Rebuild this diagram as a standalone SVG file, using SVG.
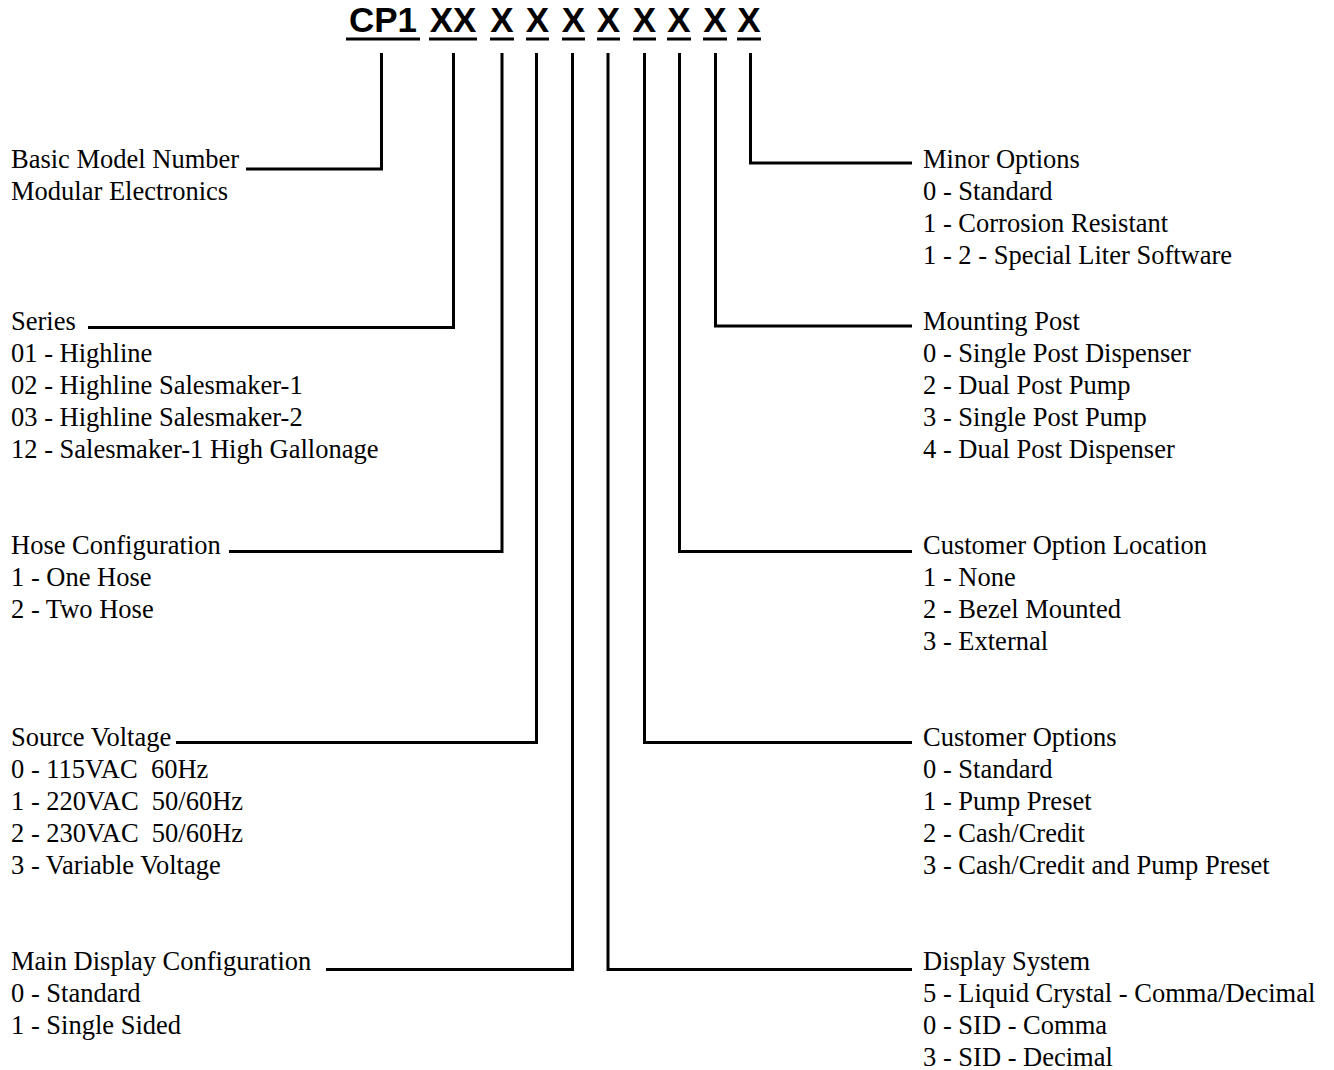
<svg xmlns="http://www.w3.org/2000/svg" width="1334" height="1070" viewBox="0 0 1334 1070">
<style>
.t{font-family:"Liberation Serif","Times New Roman",serif;font-size:26.5px;fill:#000}
.h{font-family:"Liberation Sans",Arial,sans-serif;font-size:35px;font-weight:bold;fill:#000;text-anchor:middle}
.c{fill:none;stroke:#000;stroke-width:3}
.u{fill:#000}
</style>
<rect width="1334" height="1070" fill="#fff"/>
<g id="header">
<text class="h" x="383" y="32">CP1</text>
<text class="h" x="453" y="32">XX</text>
<text class="h" x="502" y="32">X</text>
<text class="h" x="537.5" y="32">X</text>
<text class="h" x="573.5" y="32">X</text>
<text class="h" x="608.5" y="32">X</text>
<text class="h" x="644.5" y="32">X</text>
<text class="h" x="679" y="32">X</text>
<text class="h" x="715" y="32">X</text>
<text class="h" x="749" y="32">X</text>
<rect class="u" x="346" y="37.5" width="74" height="3"/>
<rect class="u" x="429" y="37.5" width="48" height="3"/>
<rect class="u" x="490" y="37.5" width="24" height="3"/>
<rect class="u" x="526" y="37.5" width="23" height="3"/>
<rect class="u" x="562" y="37.5" width="23" height="3"/>
<rect class="u" x="597" y="37.5" width="23" height="3"/>
<rect class="u" x="633" y="37.5" width="23" height="3"/>
<rect class="u" x="667" y="37.5" width="24" height="3"/>
<rect class="u" x="703" y="37.5" width="24" height="3"/>
<rect class="u" x="737" y="37.5" width="24" height="3"/>
</g>
<g id="connectors">
<polyline class="c" points="381.5,53 381.5,169 246,169"/>
<polyline class="c" points="453.5,53 453.5,327.5 88,327.5"/>
<polyline class="c" points="502,53 502,551.5 229,551.5"/>
<polyline class="c" points="536.5,53 536.5,742.5 176,742.5"/>
<polyline class="c" points="572.5,53 572.5,969.5 326,969.5"/>
<polyline class="c" points="608,53 608,969.5 912,969.5"/>
<polyline class="c" points="644.5,53 644.5,742.5 912,742.5"/>
<polyline class="c" points="679.5,53 679.5,551.5 912,551.5"/>
<polyline class="c" points="715.5,53 715.5,326 912,326"/>
<polyline class="c" points="750.5,53 750.5,163 912,163"/>
</g>
<g id="basic-model">
<text class="t" x="11" y="168">Basic Model Number</text>
<text class="t" x="11" y="200">Modular Electronics</text>
</g>
<g id="series">
<text class="t" x="11" y="330">Series</text>
<text class="t" x="11" y="362">01 - Highline</text>
<text class="t" x="11" y="394">02 - Highline Salesmaker-1</text>
<text class="t" x="11" y="426">03 - Highline Salesmaker-2</text>
<text class="t" x="11" y="458">12 - Salesmaker-1 High Gallonage</text>
</g>
<g id="hose-configuration">
<text class="t" x="11" y="554">Hose Configuration</text>
<text class="t" x="11" y="586">1 - One Hose</text>
<text class="t" x="11" y="618">2 - Two Hose</text>
</g>
<g id="source-voltage">
<text class="t" x="11" y="746">Source Voltage</text>
<text class="t" x="11" y="778" xml:space="preserve">0 - 115VAC  60Hz</text>
<text class="t" x="11" y="810" xml:space="preserve">1 - 220VAC  50/60Hz</text>
<text class="t" x="11" y="842" xml:space="preserve">2 - 230VAC  50/60Hz</text>
<text class="t" x="11" y="874">3 - Variable Voltage</text>
</g>
<g id="main-display-configuration">
<text class="t" x="11" y="970">Main Display Configuration</text>
<text class="t" x="11" y="1002">0 - Standard</text>
<text class="t" x="11" y="1034">1 - Single Sided</text>
</g>
<g id="minor-options">
<text class="t" x="923" y="168">Minor Options</text>
<text class="t" x="923" y="200">0 - Standard</text>
<text class="t" x="923" y="232">1 - Corrosion Resistant</text>
<text class="t" x="923" y="264">1 - 2 - Special Liter Software</text>
</g>
<g id="mounting-post">
<text class="t" x="923" y="330">Mounting Post</text>
<text class="t" x="923" y="362">0 - Single Post Dispenser</text>
<text class="t" x="923" y="394">2 - Dual Post Pump</text>
<text class="t" x="923" y="426">3 - Single Post Pump</text>
<text class="t" x="923" y="458">4 - Dual Post Dispenser</text>
</g>
<g id="customer-option-location">
<text class="t" x="923" y="554">Customer Option Location</text>
<text class="t" x="923" y="586">1 - None</text>
<text class="t" x="923" y="618">2 - Bezel Mounted</text>
<text class="t" x="923" y="650">3 - External</text>
</g>
<g id="customer-options">
<text class="t" x="923" y="746">Customer Options</text>
<text class="t" x="923" y="778">0 - Standard</text>
<text class="t" x="923" y="810">1 - Pump Preset</text>
<text class="t" x="923" y="842">2 - Cash/Credit</text>
<text class="t" x="923" y="874">3 - Cash/Credit and Pump Preset</text>
</g>
<g id="display-system">
<text class="t" x="923" y="970">Display System</text>
<text class="t" x="923" y="1002">5 - Liquid Crystal - Comma/Decimal</text>
<text class="t" x="923" y="1034">0 - SID - Comma</text>
<text class="t" x="923" y="1066">3 - SID - Decimal</text>
</g>
</svg>
